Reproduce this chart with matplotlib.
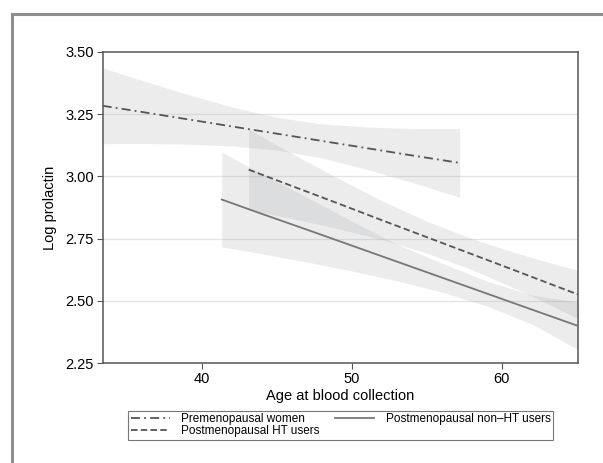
import numpy as np
import matplotlib
matplotlib.use('Agg')
import matplotlib.pyplot as plt
from matplotlib.lines import Line2D

plt.rcParams['font.family'] = ['Liberation Sans', 'DejaVu Sans']

# Premenopausal women: fit and 95% CI
preAge = [33.35, 36, 39, 42, 45, 48, 51, 54, 57.2]
preFit = [3.283, 3.258, 3.229, 3.200, 3.171, 3.142, 3.113, 3.084, 3.054]
preLo = [3.131, 3.132, 3.129, 3.122, 3.105, 3.074, 3.028, 2.976, 2.916]
preHi = [3.435, 3.384, 3.329, 3.278, 3.237, 3.210, 3.198, 3.192, 3.192]

# Postmenopausal HT users
htAge = [43.1, 46, 49, 52, 55, 58, 61, 63, 65.1]
htFit = [3.027, 2.961, 2.893, 2.824, 2.756, 2.688, 2.620, 2.574, 2.526]
htLo = [2.865, 2.831, 2.791, 2.746, 2.692, 2.626, 2.548, 2.491, 2.429]
htHi = [3.189, 3.091, 2.995, 2.902, 2.820, 2.750, 2.692, 2.657, 2.623]

# Postmenopausal non-HT users
nonAge = [41.3, 44, 47, 50, 53, 56, 59, 62, 65.1]
nonFit = [2.907, 2.849, 2.786, 2.722, 2.658, 2.594, 2.530, 2.466, 2.400]
nonLo = [2.717, 2.689, 2.656, 2.620, 2.581, 2.536, 2.480, 2.408, 2.305]
nonHi = [3.097, 3.009, 2.916, 2.820, 2.728, 2.652, 2.580, 2.524, 2.495]

yTicks = [2.25, 2.50, 2.75, 3.00, 3.25, 3.50]
xTicks = [40, 50, 60]

W, H = 603, 463
fig = plt.figure(figsize=(W / 100, H / 100), dpi=100)
ax = fig.add_axes([102.7 / W, 1 - 363.3 / H, (578 - 102.7) / W, (363.3 - 51.7) / H])

# outer graph-region frame (top and left only, rest is cropped)
fig.add_artist(Line2D([11.5 / W, 1.0], [1 - 13.5 / H, 1 - 13.5 / H], color='#8e8e8e', lw=2.2))
fig.add_artist(Line2D([11.5 / W, 11.5 / W], [0.0, 1 - 13.5 / H], color='#8e8e8e', lw=2.2))

bandCol = '#a0a2a8'
for a, lo, hi in [(preAge, preLo, preHi), (htAge, htLo, htHi), (nonAge, nonLo, nonHi)]:
    ax.fill_between(a, lo, hi, color=bandCol, alpha=0.2, lw=0, zorder=1)

for y in yTicks[1:-1]:
    ax.axhline(y, color='#e3e3e3', lw=0.9, zorder=0.5)

lw = 1.3
ax.plot(preAge, preFit, color='#555555', lw=lw, dashes=(5, 2.3, 1, 2.3), label='Premenopausal women', zorder=3)
ax.plot(htAge, htFit, color='#555555', lw=lw, dashes=(3.6, 1.8), label='Postmenopausal HT users', zorder=3)
ax.plot(nonAge, nonFit, color='#777777', lw=lw, label='Postmenopausal non\u2013HT users', zorder=3)

ax.set_xlim(33.35, 65.1)
ax.set_ylim(2.25, 3.50)
ax.set_xticks(xTicks)
ax.set_yticks(yTicks)
ax.set_yticklabels(['%.2f' % v for v in yTicks])
ax.tick_params(axis='both', labelsize=10.5, length=4.5, width=0.8, color='#555555', pad=2)
for s in ax.spines.values():
    s.set_color('#555555')
    s.set_linewidth(1.1)

ax.set_xlabel('Age at blood collection', fontsize=10.5, labelpad=2)
ax.set_ylabel('Log prolactin', fontsize=10.5, labelpad=6)

leg = fig.legend(loc='upper left', bbox_to_anchor=(128.3 / W, 1 - 410.7 / H), ncol=2,
                 fontsize=8.5, handlelength=3.3, handletextpad=1.0, columnspacing=1.3,
                 labelspacing=0.02, borderpad=0.2, borderaxespad=0, fancybox=False,
                 frameon=True)
leg.get_frame().set_edgecolor('#555555')
leg.get_frame().set_linewidth(0.8)

fig.savefig('out.png', dpi=100)
